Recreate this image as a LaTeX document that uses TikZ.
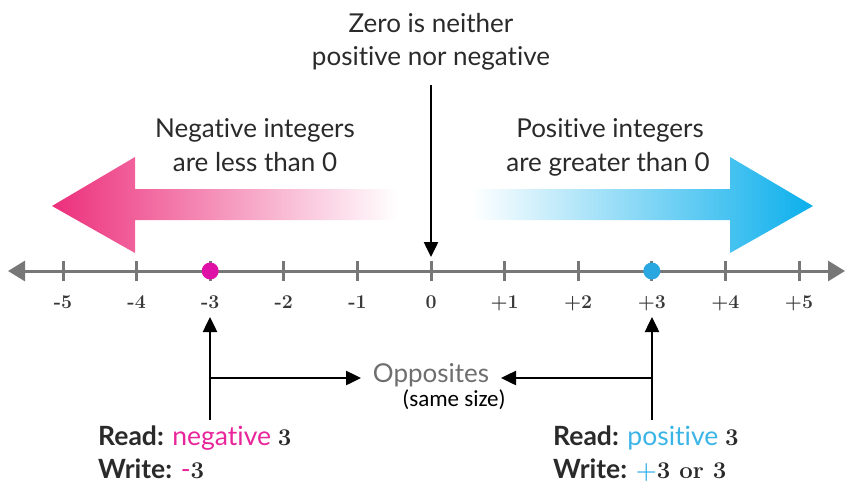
\documentclass[tikz,border=0pt]{standalone}
\usepackage{fontspec}
\newfontfamily\lato[Ligatures=NoCommon]{Lato}
\newfontfamily\calib{Carlito}
\newcommand\numf{\rmfamily\bfseries}
\usetikzlibrary{arrows.meta}
\definecolor{pinkA}{HTML}{EC2F7B}
\definecolor{blueA}{HTML}{0BAFEC}
\definecolor{dotneg}{HTML}{DE10A6}
\definecolor{dotpos}{HTML}{2AA6E0}
\definecolor{txtneg}{HTML}{E8259A}
\definecolor{txtpos}{HTML}{3BB4E6}
\definecolor{linegray}{HTML}{777777}
\definecolor{txtdark}{HTML}{2A2A2A}
\definecolor{oppgray}{HTML}{6E6E6E}
\begin{document}
\begin{tikzpicture}[x=1pt,y=-1pt,
  headtxt/.style={font=\lato\fontsize{26}{30}\selectfont, text=txtdark, anchor=base, inner sep=0pt},
  numlab/.style={font=\numf\fontsize{19.5}{19.5}\selectfont, text=black!78, anchor=base, inner sep=0pt},
  rwtxt/.style={font=\lato\fontsize{26.5}{28}\selectfont, text=txtdark, anchor=base west, inner sep=0pt},
  blk/.style={draw=black, line width=2.5pt, -{Triangle[length=15pt,width=14pt]}},
  nline/.style={draw=linegray, line width=3pt, {Triangle[length=17pt,width=20pt]}-{Triangle[length=17pt,width=20pt]}},
  tick/.style={draw=linegray, line width=3pt},
  dot/.style={circle, inner sep=0pt, minimum size=17pt}
]
\useasboundingbox (0,0) rectangle (847,488);

% gradient arrows
\shade[left color=pinkA, middle color=pinkA!62!white, right color=white]
  (52,206) -- (135,157) -- (135,189) -- (397,189) -- (397,220) -- (135,220) -- (135,253) -- cycle;
\shade[left color=white, middle color=blueA!58!white, right color=blueA]
  (813,206) -- (730,157) -- (730,189) -- (472,189) -- (472,220) -- (730,220) -- (730,253) -- cycle;

% header texts
\node[headtxt] (zero1) at (431,32) {Zero is neither};
\node[headtxt] (zero2) at (431,65) {positive nor negative};
\node[headtxt] (neg1) at (255,137) {Negative integers};
\node[headtxt] (neg2) at (255,171) {are less than 0};
\node[headtxt] (pos1) at (610,137) {Positive integers};
\node[headtxt] (pos2) at (608,171) {are greater than 0};

% number line
\coordinate (nlL) at (8,271);
\coordinate (nlR) at (845,271);
\draw[nline] (nlL) -- (nlR);
\foreach \i/\lab in {0/-5,1/-4,2/-3,3/-2,4/-1,5/0,6/+1,7/+2,8/+3,9/+4,10/+5}{
  \coordinate (t\i) at ({431+73.6*(\i-5)},271);
  \draw[tick] (t\i) ++(0,-10) -- ++(0,20);
  \node[numlab] (lab\i) at ({431+73.6*(\i-5)},308) {\lab};
}

% dots
\node[dot, fill=dotneg] (dneg) at (t2) {};
\node[dot, fill=dotpos] (dpos) at (t8) {};

% zero arrow
\coordinate (zt) at (431,85);
\coordinate (zb) at (431,257);
\draw[blk] (zt) -- (zb);

% opposites
\node[font=\lato\fontsize{26}{26}\selectfont, text=oppgray, anchor=base, inner sep=0pt] (opp) at (431,382) {Opposites};
\node[font=\calib\fontsize{23}{23}\selectfont, text=black, anchor=base, inner sep=0pt] (same) at (454,406) {(same size)};

\coordinate (nb) at (210,420);
\coordinate (nt) at (210,317);
\coordinate (nm) at (210,378);
\coordinate (pb) at (652,420);
\coordinate (pt) at (652,317);
\coordinate (pm) at (652,378);
\coordinate (oppL) at (361,378);
\coordinate (oppR) at (501,378);
\draw[blk] (nb) -- (nt);
\draw[blk] (pb) -- (pt);
\draw[blk] (nm) -- (oppL);
\draw[blk] (pm) -- (oppR);

% read / write
\node[rwtxt] (rneg) at (98,445) {\bfseries Read: \mdseries\textcolor{txtneg}{negative} {\numf\fontsize{24}{24}\selectfont 3}};
\node[rwtxt] (wneg) at (98,478) {\bfseries Write: \mdseries\textcolor{txtneg}{-}{\numf\fontsize{24}{24}\selectfont 3}};
\node[rwtxt] (rpos) at (553,445) {\bfseries Read: \mdseries\textcolor{txtpos}{positive} {\numf\fontsize{24}{24}\selectfont 3}};
\node[rwtxt] (wpos) at (553,478) {\bfseries Write: \mdseries{\numf\fontsize{24}{24}\selectfont\textcolor{txtpos}{+}3 or 3}};
\end{tikzpicture}
\end{document}
